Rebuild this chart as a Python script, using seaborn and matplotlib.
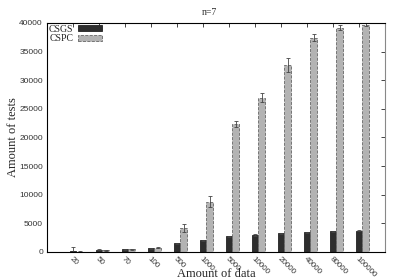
import pandas as pd
import matplotlib
matplotlib.use('Agg')
import matplotlib.pyplot as plt
import seaborn as sns
from matplotlib.patches import Patch

# Datos
sizes = ['20', '50', '70', '100', '500', '1000', '5000', '10000',
         '20000', '40000', '80000', '100000']
csgs = [100, 400, 500, 650, 1500, 2050, 2750, 2950, 3250, 3450, 3600, 3700]
csgs_err = [800, 100, 80, 80, 100, 100, 100, 100, 100, 100, 100, 100]
cspc = [60, 300, 450, 750, 4100, 8800, 22350, 26900, 32650, 37400, 39150, 39700]
cspc_err = [50, 80, 80, 100, 700, 900, 450, 800, 1200, 600, 400, 300]

df = pd.DataFrame({
    'size': sizes * 2,
    'value': csgs + cspc,
    'method': ['CSGS'] * len(sizes) + ['CSPC'] * len(sizes),
})

sns.set_style('white')
plt.rcParams['font.family'] = ['Liberation Serif', 'DejaVu Serif']

fig = plt.figure(figsize=(3.99, 2.79), dpi=100)
ax = fig.add_axes([0.118, 0.097, 0.847, 0.821])

dark = '#2e2e2e'
gray = '#b3b3b3'
sns.barplot(data=df, x='size', y='value', hue='method', order=sizes,
            palette={'CSGS': dark, 'CSPC': gray}, width=0.5,
            errorbar=None, ax=ax, legend=False)

# Bordes y barras de error
for cont, errs, style in zip(ax.containers, [csgs_err, cspc_err], ['-', '--']):
    xs = [p.get_x() + p.get_width() / 2 for p in cont.patches]
    hs = [p.get_height() for p in cont.patches]
    for p in cont.patches:
        p.set_edgecolor('#222222' if style == '-' else '#666666')
        p.set_linewidth(0.6)
        p.set_linestyle(style)
    ax.errorbar(xs, hs, yerr=errs, fmt='none', ecolor='#444444',
                elinewidth=0.6, capsize=1.5, capthick=0.6)

n = len(sizes)
ax.set_xlim(-1.125, n - 0.125)
ax.set_xticks([i - 0.125 for i in range(n)])
ax.set_xticklabels(sizes, rotation=-45, ha='left', va='top',
                   rotation_mode='anchor', family='Liberation Sans',
                   fontsize=5.8, color='#333333')
ax.set_ylim(0, 40000)
ax.set_yticks(range(0, 40001, 5000))
ax.set_yticklabels([str(v) for v in range(0, 40001, 5000)],
                   family='Liberation Sans', fontsize=6, color='#333333')
ax.tick_params(direction='in', length=3, width=0.6, top=True, right=True,
               pad=3)
ax.tick_params(axis='x', pad=2.5)

for side in ['left', 'bottom', 'top']:
    ax.spines[side].set_color('black')
    ax.spines[side].set_linewidth(0.8)
ax.spines['right'].set_color('#888888')
ax.spines['right'].set_linewidth(0.8)

ax.set_xlabel('Amount of data', fontsize=9, va='center')
ax.xaxis.set_label_coords(0.5, -0.096)
ax.set_ylabel('Amount of tests', fontsize=9, va='center')
ax.yaxis.set_label_coords(-0.1, 0.5)
fig.text(0.525, 0.955, 'n=7', ha='center', va='center',
         fontsize=7, color='#333333')

handles = [Patch(facecolor=dark, edgecolor='#222222', linewidth=0.6),
           Patch(facecolor=gray, edgecolor='#666666', linewidth=0.6,
                 linestyle='--')]
leg = ax.legend(handles, ['CSGS', 'CSPC'], loc='upper left',
                markerfirst=False, frameon=False, fontsize=7,
                handlelength=2.4, handleheight=0.6, labelspacing=0.05,
                borderaxespad=0.1, handletextpad=0.5, borderpad=0.1)

fig.savefig('out.png', dpi=100)
